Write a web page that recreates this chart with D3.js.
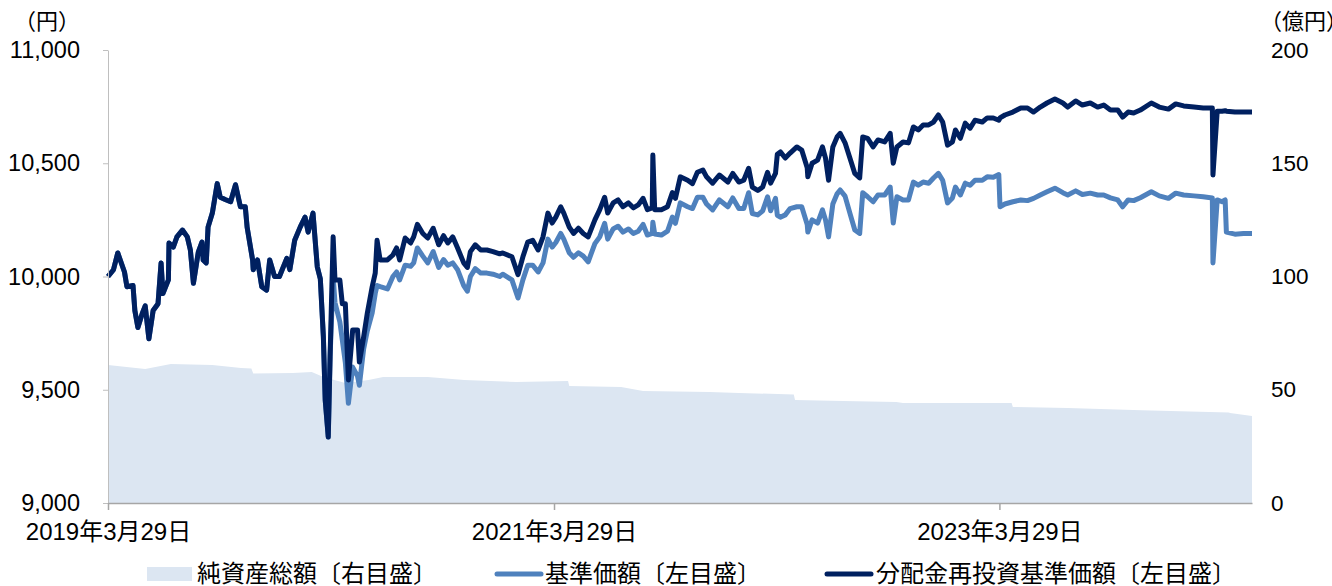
<!DOCTYPE html>
<html>
<head>
<meta charset="utf-8">
<script src="https://cdn.jsdelivr.net/npm/d3@7"></script>
<style>
  body { margin: 0; background: #fff; }
  svg text { font-family: "Liberation Sans", Arial, "Noto Sans CJK JP", sans-serif; fill: #000; }
</style>
</head>
<body>
<div id="chart"></div>
<script>

// ======================= //
// DATA
// ======================= //

// dates shared by the two price lines
var dates = [
  "2019-03-29","2019-04-07","2019-04-14","2019-04-25","2019-04-29","2019-05-09","2019-05-12","2019-05-17","2019-05-24","2019-05-29",
  "2019-06-04","2019-06-11","2019-06-19","2019-06-24","2019-06-27","2019-07-06","2019-07-07","2019-07-14","2019-07-20","2019-07-29",
  "2019-08-06","2019-08-11","2019-08-16","2019-08-24","2019-08-30","2019-09-01","2019-09-06","2019-09-09","2019-09-16","2019-09-24",
  "2019-09-29","2019-10-07","2019-10-16","2019-10-24","2019-11-01","2019-11-09","2019-11-12","2019-11-21","2019-11-22","2019-11-29",
  "2019-12-06","2019-12-14","2019-12-19","2019-12-27","2020-01-04","2020-01-16","2020-01-21","2020-01-29","2020-02-07","2020-02-15",
  "2020-02-20","2020-02-28","2020-03-06","2020-03-11","2020-03-16","2020-03-19","2020-03-24","2020-03-27",
  "2020-04-01","2020-04-04","2020-04-12","2020-04-16","2020-04-21","2020-04-26","2020-05-03","2020-05-11","2020-05-14","2020-05-21",
  "2020-05-27","2020-06-04","2020-06-09","2020-06-12","2020-06-17","2020-06-29","2020-07-08","2020-07-14","2020-07-19","2020-07-28",
  "2020-08-06","2020-08-11","2020-08-17","2020-08-26","2020-09-03","2020-09-12","2020-09-21","2020-09-29","2020-10-06","2020-10-14",
  "2020-10-22","2020-11-01","2020-11-07","2020-11-12","2020-11-20","2020-11-29","2020-12-09","2020-12-19","2020-12-30",
  "2021-01-04","2021-01-19","2021-01-29","2021-02-06","2021-02-14","2021-02-22","2021-03-03","2021-03-11","2021-03-19","2021-03-26",
  "2021-04-01","2021-04-09","2021-04-14","2021-04-23","2021-04-30","2021-05-08","2021-05-16","2021-05-24","2021-06-04","2021-06-12",
  "2021-06-20","2021-06-25","2021-07-04","2021-07-12","2021-07-20","2021-07-29","2021-08-06","2021-08-14","2021-08-22","2021-08-29",
  "2021-09-06","2021-09-07","2021-09-10","2021-09-21","2021-10-01","2021-10-09","2021-10-14","2021-10-22","2021-11-03","2021-11-11",
  "2021-11-19","2021-11-28","2021-12-04","2021-12-14","2021-12-25","2022-01-08","2022-01-16","2022-01-26","2022-02-03","2022-02-11",
  "2022-02-17","2022-02-26","2022-03-06","2022-03-14","2022-03-19","2022-03-27","2022-03-30","2022-04-04","2022-04-12","2022-04-20",
  "2022-05-01","2022-05-09","2022-05-18","2022-05-19","2022-05-26","2022-06-04","2022-06-12","2022-06-17","2022-06-22","2022-06-29",
  "2022-07-06","2022-07-11","2022-07-19","2022-07-28","2022-08-04","2022-08-12","2022-08-17","2022-08-25","2022-09-03","2022-09-11",
  "2022-09-22","2022-10-01","2022-10-06","2022-10-12","2022-10-22","2022-10-31","2022-11-08","2022-11-16","2022-11-24","2022-12-03",
  "2022-12-11","2022-12-19","2022-12-26","2023-01-03","2023-01-11","2023-01-16","2023-01-24","2023-02-01","2023-02-09","2023-02-17",
  "2023-03-01","2023-03-09","2023-03-19","2023-03-28","2023-03-30","2023-04-07","2023-04-20","2023-05-03","2023-05-14","2023-05-24",
  "2023-06-04","2023-06-15","2023-06-28","2023-07-11","2023-07-19","2023-08-01","2023-08-12","2023-08-25","2023-09-06","2023-09-16",
  "2023-09-27","2023-10-09","2023-10-17","2023-10-26","2023-11-04","2023-11-15","2023-12-03","2023-12-16","2023-12-31","2024-01-12",
  "2024-01-25","2024-02-11","2024-02-26","2024-03-12","2024-03-13","2024-03-20","2024-03-28","2024-04-02","2024-04-04","2024-04-18",
  "2024-05-02","2024-05-16"
]

// 分配金再投資基準価額 (円)
var navReinvest = [
  10000,10030,10104,10020,9955,9960,9850,9775,9836,9870,
  9725,9850,9880,10060,9925,9985,10148,10130,10175,10205,
  10175,10117,9970,10108,10152,10073,10060,10218,10280,10410,
  10350,10340,10330,10405,10308,10308,10218,10073,10030,10073,
  9955,9940,10073,10000,10000,10080,10030,10160,10218,10262,
  10196,10280,10043,9990,9733,9455,9291,9645,
  10175,9985,9985,9880,9880,9543,9764,9764,9622,9733,
  9838,9955,10015,10160,10073,10073,10095,10126,10073,10170,
  10148,10175,10230,10190,10170,10213,10140,10180,10148,10175,
  10126,10060,10040,10110,10140,10117,10117,10110,10100,
  10104,10087,10008,10087,10152,10160,10117,10175,10280,10236,
  10262,10308,10280,10218,10190,10213,10190,10175,10250,10295,
  10350,10280,10325,10338,10308,10325,10303,10316,10345,10295,
  10303,10536,10295,10295,10308,10370,10345,10440,10425,10410,
  10460,10470,10440,10412,10448,10417,10455,10417,10425,10478,
  10395,10380,10395,10460,10412,10455,10540,10550,10523,10545,
  10572,10558,10480,10440,10500,10514,10572,10523,10425,10572,
  10616,10632,10590,10514,10455,10435,10616,10610,10572,10603,
  10594,10632,10500,10572,10594,10590,10660,10647,10669,10669,
  10682,10713,10682,10580,10594,10647,10610,10677,10655,10690,
  10682,10700,10700,10690,10700,10713,10726,10744,10744,10726,
  10748,10766,10784,10766,10748,10775,10757,10766,10748,10757,
  10735,10735,10704,10726,10722,10735,10766,10748,10739,10762,
  10753,10748,10744,10744,10448,10730,10730,10732,10730,10726,
  10726,10726
]

// 基準価額 (円)
var nav = [
  10000,10030,10104,10020,9955,9960,9850,9775,9836,9870,
  9725,9850,9880,10060,9925,9985,10148,10130,10175,10205,
  10175,10117,9970,10108,10152,10073,10060,10218,10280,10410,
  10350,10340,10330,10405,10308,10308,10218,10073,10030,10073,
  9955,9940,10073,10000,10000,10080,10030,10160,10218,10262,
  10196,10280,10043,9990,9733,9455,9291,9645,
  10000,9885,9800,9720,9620,9440,9600,9560,9520,9680,
  9760,9840,9925,9960,9955,9945,10000,10020,9985,10050,
  10045,10060,10126,10090,10060,10110,10040,10075,10050,10060,
  10030,9960,9935,10000,10035,10015,10015,10010,10000,
  10010,9985,9905,9985,10050,10050,10020,10060,10165,10130,
  10150,10190,10165,10105,10085,10105,10090,10065,10145,10175,
  10235,10165,10210,10222,10196,10210,10190,10200,10230,10183,
  10190,10240,10188,10183,10200,10262,10235,10325,10308,10300,
  10350,10350,10320,10294,10338,10308,10347,10300,10300,10370,
  10278,10272,10290,10352,10290,10345,10270,10262,10272,10300,
  10308,10308,10230,10196,10250,10236,10294,10250,10175,10320,
  10365,10382,10355,10270,10205,10190,10370,10352,10330,10360,
  10360,10395,10236,10352,10338,10338,10417,10403,10417,10412,
  10435,10455,10425,10325,10347,10395,10360,10412,10403,10425,
  10425,10440,10438,10450,10308,10320,10330,10338,10335,10345,
  10360,10374,10390,10370,10360,10378,10362,10368,10360,10360,
  10347,10338,10308,10338,10335,10348,10374,10356,10345,10368,
  10360,10356,10352,10347,10060,10338,10330,10338,10196,10187,
  10190,10190
]

// 純資産総額 (億円)
var assetDates = [
  "2019-03-29","2019-05-29","2019-07-10","2019-09-16","2019-11-02","2019-11-19","2019-11-22","2020-01-26","2020-02-26","2020-03-16",
  "2020-04-21","2020-05-29","2020-06-22","2020-09-03","2020-11-02","2021-01-26","2021-04-21","2021-04-23","2021-07-17","2021-08-22",
  "2021-12-09","2022-01-26","2022-04-26","2022-04-28","2022-07-16","2022-10-11","2022-10-22","2023-04-18","2023-04-20","2023-07-19",
  "2023-11-17","2024-04-08","2024-04-10","2024-05-16"
]
var assets = [
  60.9,59.2,61.4,60.9,59.6,59.4,57.2,57.4,57.8,55.6,
  53.0,54.3,55.6,55.6,54.3,53.4,53.9,51.7,51.2,49.4,
  49.0,48.6,47.9,45.5,45.0,44.6,44.2,44.1,42.4,41.9,
  41.0,40.0,39.7,38.4
]

var leftTicks = [9000, 9500, 10000, 10500, 11000]
var rightTicks = [0, 50, 100, 150, 200]
var xTicks = ["2019-03-29", "2021-03-29", "2023-03-29"]
var legendNames = ["純資産総額〔右目盛〕", "基準価額〔左目盛〕", "分配金再投資基準価額〔左目盛〕"]


// ======================= //
// SVG AND SCALES
// ======================= //

var W = 1332, H = 586
var margin = {top: 50, left: 108, right: 80, bottom: 83}
var width = W - margin.left - margin.right,
    height = H - margin.top - margin.bottom

var parse = d3.timeParse("%Y-%m-%d")

var svg = d3.select("#chart")
  .append("svg")
    .attr("width", W)
    .attr("height", H)

var g = svg.append("g")
  .attr("transform", "translate(" + margin.left + "," + margin.top + ")")

var x = d3.scaleTime()
  .domain([parse("2019-03-29"), parse("2024-05-16")])
  .range([0, width])

var yL = d3.scaleLinear().domain([9000, 11000]).range([height, 0])
var yR = d3.scaleLinear().domain([0, 200]).range([height, 0])

var colArea = "#dce6f2", colNav = "#4f81bd", colRe = "#002060"


// ======================= //
// MARKS
// ======================= //

var areaData = assetDates.map(function(d, i){ return {date: parse(d), v: assets[i]} })
g.append("path")
  .datum(areaData)
  .attr("fill", colArea)
  .attr("d", d3.area()
    .x(function(d){ return x(d.date) })
    .y0(height)
    .y1(function(d){ return yR(d.v) }))

var lineData = dates.map(function(d, i){ return {date: parse(d), nav: nav[i], re: navReinvest[i]} })

g.append("path")
  .datum(lineData)
  .attr("fill", "none")
  .attr("stroke", colNav)
  .attr("stroke-width", 5)
  .attr("stroke-linejoin", "round")
  .attr("d", d3.line().x(function(d){ return x(d.date) }).y(function(d){ return yL(d.nav) }))

g.append("path")
  .datum(lineData)
  .attr("fill", "none")
  .attr("stroke", colRe)
  .attr("stroke-width", 5)
  .attr("stroke-linejoin", "round")
  .attr("d", d3.line().x(function(d){ return x(d.date) }).y(function(d){ return yL(d.re) }))


// ======================= //
// AXES
// ======================= //

var axL = g.append("g")
  .call(d3.axisLeft(yL).tickValues(leftTicks).tickFormat(d3.format(",")).tickSize(5).tickSizeOuter(0).tickPadding(23))
axL.select(".domain").attr("stroke", "#bfbfbf")
axL.selectAll(".tick line").attr("stroke", "#bfbfbf")
axL.selectAll("text").style("font-size", "23.5px")

var axR = g.append("g")
  .attr("transform", "translate(" + width + ",0)")
  .call(d3.axisRight(yR).tickValues(rightTicks).tickSize(0).tickPadding(19))
axR.select(".domain").remove()
axR.selectAll("text").style("font-size", "22.5px")

var fmtDate = d3.timeFormat("%Y年%-m月%-d日")
var axB = g.append("g")
  .attr("transform", "translate(0," + height + ")")
  .call(d3.axisBottom(x).tickValues(xTicks.map(parse)).tickFormat(fmtDate).tickSize(7).tickSizeOuter(0).tickPadding(13))
axB.select(".domain").attr("stroke", "#a6a6a6").attr("stroke-width", 1.5)
axB.selectAll(".tick line").attr("stroke", "#a6a6a6").attr("stroke-width", 1.5)
axB.selectAll("text").style("font-size", "24px")

// unit labels
svg.append("text").attr("x", 14).attr("y", 29).style("font-size", "22px").text("（円）")
svg.append("text").attr("x", 1260).attr("y", 29).style("font-size", "22px").text("（億円）")


// ======================= //
// LEGEND
// ======================= //

var legY = 574
svg.append("rect").attr("x", 147).attr("y", legY - 7).attr("width", 45).attr("height", 14).attr("fill", colArea)
svg.append("line").attr("x1", 497).attr("x2", 541).attr("y1", legY).attr("y2", legY)
  .attr("stroke", colNav).attr("stroke-width", 5).attr("stroke-linecap", "round")
svg.append("line").attr("x1", 827).attr("x2", 871).attr("y1", legY).attr("y2", legY)
  .attr("stroke", colRe).attr("stroke-width", 5).attr("stroke-linecap", "round")

var legX = [197, 545, 876]
svg.selectAll("legText")
  .data(legendNames)
  .enter()
  .append("text")
    .attr("x", function(d, i){ return legX[i] })
    .attr("y", legY)
    .attr("dy", "0.35em")
    .style("font-size", "24px")
    .text(function(d){ return d })

</script>
</body>
</html>
